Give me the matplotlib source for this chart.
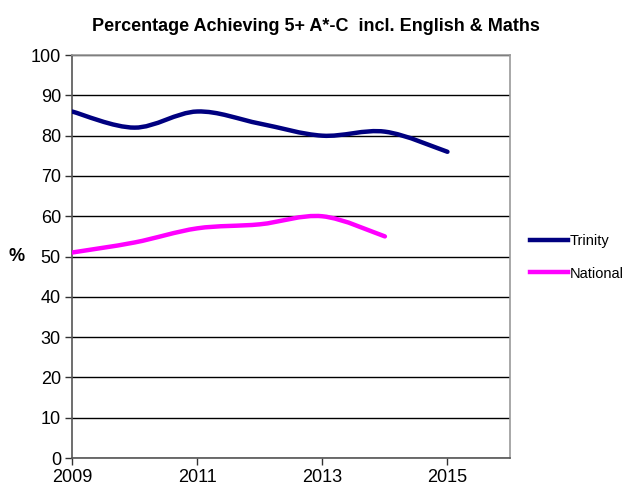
import numpy as np
import matplotlib
matplotlib.use("Agg")
import matplotlib.pyplot as plt
from matplotlib.path import Path
from matplotlib.patches import PathPatch
from matplotlib.lines import Line2D

plt.rcParams['font.family'] = ['Liberation Sans', 'DejaVu Sans']

title = "Percentage Achieving 5+ A*-C  incl. English & Maths"
years_trinity = [2009, 2010, 2011, 2012, 2013, 2014, 2015]
trinity = [86, 82, 86, 83, 80, 81, 76]
years_national = [2009, 2010, 2011, 2012, 2013, 2014]
national = [51, 53.5, 57, 58, 60, 55]
xticks = [2009, 2011, 2013, 2015]
yticks = list(range(0, 101, 10))


def smooth_path(xs, ys, t=1/6):
    # Excel-style smoothed line: cubic Bezier segments through each point
    pts = np.column_stack([xs, ys]).astype(float)
    n = len(pts)
    verts = [pts[0]]
    codes = [Path.MOVETO]
    for i in range(n - 1):
        p0 = pts[i - 1] if i > 0 else pts[i]
        p1 = pts[i]
        p2 = pts[i + 1]
        p3 = pts[i + 2] if i + 2 < n else pts[i + 1]
        c1 = p1 + (p2 - p0) * t
        c2 = p2 - (p3 - p1) * t
        verts += [c1, c2, p2]
        codes += [Path.CURVE4] * 3
    return Path(verts, codes)


fig = plt.figure(figsize=(6.32, 4.95), dpi=100)
ax = fig.add_axes([0.114, 0.0747, 0.693, 0.814])

ax.set_xlim(2009, 2016)
ax.set_ylim(0, 100)
ax.set_yticks(yticks)
ax.set_xticks(xticks)
ax.yaxis.grid(True, color='black', linewidth=1.0)
ax.set_axisbelow(True)

for xs, ys, col in [(years_trinity, trinity, '#000080'),
                    (years_national, national, '#FF00FF')]:
    ax.add_patch(PathPatch(smooth_path(xs, ys), facecolor='none',
                           edgecolor=col, linewidth=3.2, capstyle='round',
                           zorder=3))

for s in ['top', 'right']:
    ax.spines[s].set_color('#999999')
    ax.spines[s].set_linewidth(1.2)
for s in ['left', 'bottom']:
    ax.spines[s].set_color('#555555')
    ax.spines[s].set_linewidth(1.2)

ax.tick_params(axis='both', direction='out', length=5, width=1,
               color='#333333', labelsize=13, pad=3)
ax.set_ylabel('%', rotation=0, fontsize=13, fontweight='bold',
              labelpad=10, va='center')
fig.suptitle(title, fontsize=13, fontweight='bold', y=0.963)

handles = [Line2D([], [], color='#000080', lw=3.2),
           Line2D([], [], color='#FF00FF', lw=3.2)]
fig.legend(handles, ['Trinity', 'National'], loc='center left',
           bbox_to_anchor=(0.838, 0.48), frameon=False, fontsize=10.5,
           handlelength=2.6, handletextpad=0.15, labelspacing=1.25,
           borderaxespad=0, borderpad=0)

fig.savefig('out.png', dpi=100)
